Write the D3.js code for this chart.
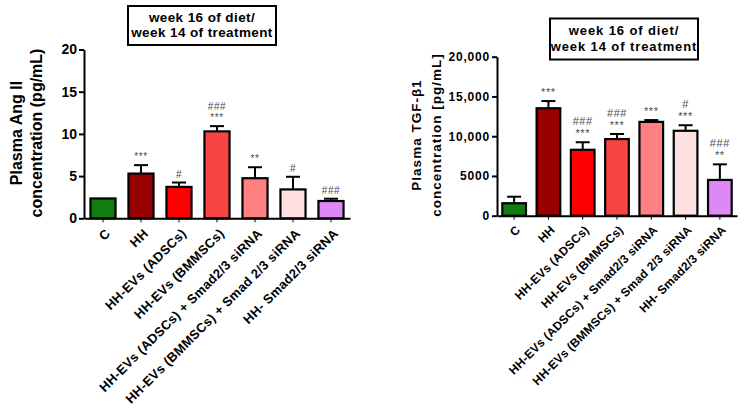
<!DOCTYPE html>
<html><head><meta charset="utf-8">
<script src="https://cdn.jsdelivr.net/npm/d3@7"></script>
<style>
html,body{margin:0;padding:0;background:#fff;}
svg{display:block;font-family:"Liberation Sans",Arial,sans-serif;}
</style></head>
<body>
<svg id="chart" width="746" height="415"></svg>
<script>
const categories = ["C","HH","HH-EVs (ADSCs)","HH-EVs (BMMSCs)","HH-EVs (ADSCs) + Smad2/3 siRNA","HH-EVs (BMMSCs) + Smad 2/3 siRNA","HH- Smad2/3 siRNA"];
const barColors = ["#117d11","#990000","#ff0000","#f94444","#ff8080","#ffe0e1","#dd88f5"];

const angValues = [2.35, 5.3, 3.72, 10.3, 4.75, 3.42, 2.05];
const angErrors = [0, 1.0, 0.52, 0.62, 1.3, 1.5, 0.27];
const angMarks = [[], ["***"], ["#"], ["###","***"], ["**"], ["#"], ["###"]];
const angTicks = [0, 5, 10, 15, 20];
const angTickLabels = ["0","5","10","15","20"];

const tgfValues = [1570, 13520, 8290, 9640, 11800, 10680, 4500];
const tgfErrors = [820, 900, 950, 640, 230, 700, 1960];
const tgfMarks = [[], ["***"], ["###","***"], ["###","***"], ["***"], ["#","***"], ["###","**"]];
const tgfTicks = [0, 5000, 10000, 15000, 20000];
const tgfTickLabels = ["0","5000","10,000","15,000","20,000"];

const svg = d3.select("#chart");

function panel(o) {
  const g = svg.append("g");
  const x = d3.scaleBand().domain(categories).range([o.x0, o.x1]).paddingInner(o.pad).paddingOuter(o.pad/2);
  const y = d3.scaleLinear().domain([0, o.ymax]).range([o.yb, o.yt]);

  const ya = g.append("g").attr("transform", `translate(${o.x0},0)`)
    .call(d3.axisLeft(y).tickValues(o.ticks).tickFormat((d,i) => o.tickLabels[i]).tickSize(5).tickSizeOuter(0));
  ya.select(".domain").attr("stroke","#000").attr("stroke-width",2);
  ya.selectAll(".tick line").attr("stroke","#000").attr("stroke-width",2);
  ya.selectAll(".tick text").attr("font-size", o.tickFont).attr("font-weight","bold")
    .attr("fill","#000").attr("letter-spacing", o.ls).attr("x",-7)
    .attr("font-family","'Liberation Sans',Arial,sans-serif");

  const xa = g.append("g").attr("transform", `translate(0,${o.yb})`)
    .call(d3.axisBottom(x).tickSize(4).tickSizeOuter(0).tickFormat(""));
  xa.select(".domain").attr("stroke","#000").attr("stroke-width",2);
  xa.selectAll(".tick line").attr("stroke","#000").attr("stroke-width",1);

  g.selectAll("text.xl").data(categories).join("text")
    .attr("class","xl")
    .attr("transform", d => `translate(${x(d) + x.bandwidth()/2 + o.lx},${o.yb + o.ly}) rotate(-45)`)
    .attr("text-anchor","end")
    .attr("font-size", o.xFont).attr("font-weight","bold").attr("fill","#000")
    .attr("letter-spacing", o.xls)
    .text(d => d);

  const idx = d3.range(categories.length);
  idx.forEach(i => {
    if (!o.err[i]) return;
    const cx = x(categories[i]) + x.bandwidth()/2;
    const top = y(o.vals[i] + o.err[i]);
    g.append("line").attr("x1",cx).attr("x2",cx).attr("y1",y(o.vals[i])).attr("y2",top)
      .attr("stroke","#000").attr("stroke-width",2);
    g.append("line").attr("x1",cx - o.cap).attr("x2",cx + o.cap).attr("y1",top).attr("y2",top)
      .attr("stroke","#000").attr("stroke-width",2);
  });

  g.selectAll("rect.bar").data(idx).join("rect")
    .attr("class","bar")
    .attr("x", i => x(categories[i]))
    .attr("width", x.bandwidth())
    .attr("y", i => y(o.vals[i]))
    .attr("height", i => y(0) - y(o.vals[i]))
    .attr("fill", i => barColors[i])
    .attr("stroke","#000").attr("stroke-width",2.2);

  idx.forEach(i => {
    const cx = x(categories[i]) + x.bandwidth()/2;
    const top = y(o.vals[i] + (o.err[i] || 0));
    const m = o.marks[i];
    m.forEach((t, k) => {
      const line = m.length - 1 - k;
      g.append("text").attr("x", cx).attr("y", top - o.markGap - line * o.markLine)
        .attr("text-anchor","middle").attr("font-size", o.markFont)
        .attr("fill","#4a4a55").attr("letter-spacing", 0.6).text(t);
    });
  });

  const yt = g.append("text").attr("transform", `translate(${o.titleX},${o.titleY}) rotate(-90)`)
    .attr("text-anchor","middle").attr("font-size", o.yFont).attr("font-weight","bold")
    .attr("letter-spacing", o.yls).attr("fill","#000");
  yt.append("tspan").attr("x",0).attr("dy",0).text(o.yTitle[0]);
  yt.append("tspan").attr("x",0).attr("dy", o.yLine).text(o.yTitle[1]);

  g.append("rect").attr("x", o.bx).attr("y", o.by).attr("width", o.bw).attr("height", o.bh)
    .attr("fill","#fff").attr("stroke","#000").attr("stroke-width",2);
  const bt = g.append("text").attr("text-anchor","middle").attr("font-size", o.bFont)
    .attr("font-weight","bold").attr("letter-spacing", o.bls).attr("fill","#000");
  bt.append("tspan").attr("x", o.bx + o.bw/2).attr("y", o.by + o.bh*0.4).text("week 16 of diet/");
  bt.append("tspan").attr("x", o.bx + o.bw/2).attr("y", o.by + o.bh*0.8).text("week 14 of treatment");
}

panel({
  x0: 84, x1: 350, yt: 49.5, yb: 218.3, ymax: 20, pad: 0.34,
  vals: angValues, err: angErrors, marks: angMarks,
  ticks: angTicks, tickLabels: angTickLabels, tickFont: 14, ls: 0,
  xFont: 13, xls: 0.3, lx: 8, ly: 16, cap: 7,
  markFont: 10, markGap: 5, markLine: 11,
  yTitle: ["Plasma Ang II", "concentration (pg/mL)"], titleX: 22, titleY: 133, yFont: 16, yls: 0, yLine: 20,
  bx: 128, by: 6, bw: 148, bh: 39, bFont: 13.5, bls: 0.4
});

panel({
  x0: 497, x1: 737, yt: 56.7, yb: 215.7, ymax: 20000, pad: 0.31,
  vals: tgfValues, err: tgfErrors, marks: tgfMarks,
  ticks: tgfTicks, tickLabels: tgfTickLabels, tickFont: 12, ls: 0.8,
  xFont: 12, xls: 0.2, lx: 7, ly: 15, cap: 7,
  markFont: 11, markGap: 5, markLine: 12,
  yTitle: ["Plasma TGF-\u03b21", "concentration [pg/mL]"], titleX: 421, titleY: 135, yFont: 13.5, yls: 1, yLine: 20,
  bx: 550, by: 18.5, bw: 148, bh: 41, bFont: 13, bls: 0.9
});
</script>
</body></html>
